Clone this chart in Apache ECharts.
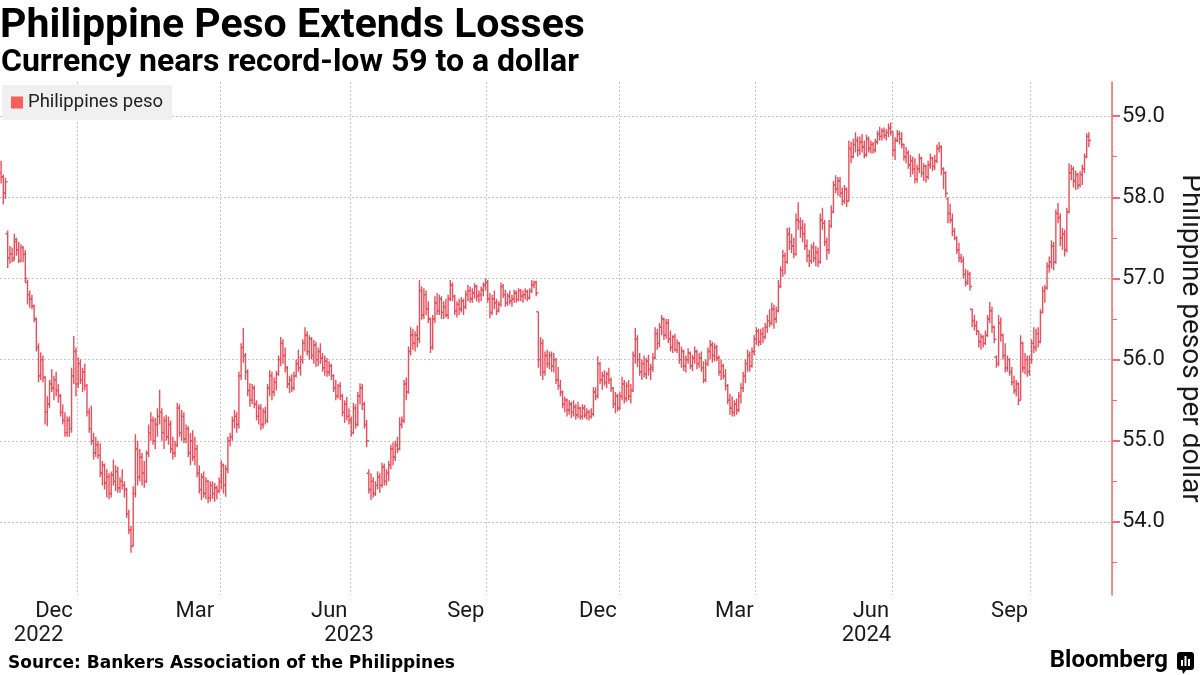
<!DOCTYPE html>
<html>
<head>
<meta charset="utf-8">
<script src="https://cdn.jsdelivr.net/npm/echarts@6/dist/echarts.min.js"></script>
<style>
html,body{margin:0;padding:0;background:#fff;}
#chart{width:1200px;height:675px;}
</style>
</head>
<body>
<div id="chart"></div>
<script>
// ---- Data: daily bars [open, high, low, close], grouped by month ----
const nov2022 = [[58.30,58.45,58.17,58.25],[58.25,58.28,57.91,58.05],[58.05,58.24,57.98,58.19],[57.55,57.59,57.13,57.25],[57.25,57.40,57.18,57.30],[57.30,57.38,57.20,57.22],[57.25,57.55,57.22,57.48],[57.45,57.50,57.28,57.35],[57.35,57.45,57.19,57.22],[57.22,57.42,57.20,57.38],[57.38,57.40,57.20,57.30],[57.30,57.35,56.95,57.00],[56.95,56.98,56.68,56.80]];
const dec2022 = [[56.80,56.85,56.64,56.75],[56.75,56.80,56.62,56.66],[56.66,56.68,56.46,56.50],[56.50,56.52,56.10,56.15],[56.15,56.20,55.72,55.80],[55.80,56.09,55.75,56.00],[56.00,56.05,55.72,55.78],[55.78,55.80,55.20,55.35],[55.35,55.55,55.18,55.45],[55.45,55.75,55.40,55.70],[55.70,55.88,55.60,55.65],[55.65,55.80,55.50,55.75],[55.75,55.85,55.55,55.62],[55.62,55.70,55.47,55.55],[55.55,55.58,55.30,55.35],[55.35,55.45,55.20,55.25],[55.25,55.35,55.05,55.10],[55.10,55.30,55.05,55.25],[55.25,55.30,55.05,55.15],[55.15,55.90,55.10,55.80],[55.80,56.29,55.70,56.10],[56.10,56.15,55.55,55.70]];
const jan2023 = [[55.70,56.03,55.65,55.95],[55.95,56.00,55.70,55.75],[55.75,55.90,55.60,55.85],[55.85,55.95,55.62,55.68],[55.68,55.70,55.30,55.35],[55.35,55.40,55.10,55.15],[55.15,55.43,54.95,55.00],[55.00,55.10,54.77,54.85],[54.85,55.05,54.80,54.95],[54.95,55.00,54.78,54.82],[54.82,54.97,54.55,54.60],[54.60,54.75,54.45,54.70],[54.70,54.72,54.40,54.48],[54.48,54.65,54.30,54.55],[54.55,54.60,54.28,54.35],[54.35,54.62,54.30,54.58],[54.58,54.77,54.45,54.50],[54.50,54.70,54.38,54.62],[54.62,54.68,54.36,54.42],[54.42,54.55,54.36,54.50],[54.50,54.65,54.40,54.45],[54.45,54.50,54.30,54.40]];
const feb2023 = [[54.40,54.42,54.05,54.10],[54.10,54.15,53.85,53.90],[53.90,53.95,53.62,53.70],[53.70,54.44,53.70,54.35],[54.35,55.08,54.30,54.90],[54.90,55.00,54.45,54.55],[54.55,54.90,54.50,54.80],[54.80,54.85,54.45,54.60],[54.60,54.75,54.42,54.50],[54.50,54.88,54.48,54.85],[54.85,55.20,54.80,55.10],[55.10,55.35,55.00,55.25],[55.25,55.30,54.95,55.00],[55.00,55.28,54.90,55.20],[55.20,55.40,55.05,55.30],[55.30,55.63,55.20,55.35],[55.35,55.40,55.00,55.10],[55.10,55.30,54.90,55.25],[55.25,55.32,55.00,55.05],[55.05,55.30,54.95,55.20]];
const mar2023 = [[55.20,55.25,54.85,54.90],[54.90,55.05,54.77,54.85],[54.85,55.00,54.80,54.95],[54.95,55.47,54.92,55.40],[55.40,55.45,55.05,55.10],[55.10,55.38,55.00,55.30],[55.30,55.35,54.97,55.02],[55.02,55.20,54.97,55.15],[55.15,55.18,54.80,54.85],[54.85,55.10,54.70,55.00],[55.00,55.13,54.75,54.80],[54.80,55.05,54.70,54.90],[54.90,54.95,54.55,54.60],[54.60,54.70,54.35,54.40],[54.40,54.60,54.27,54.55],[54.55,54.62,54.30,54.35],[54.35,54.55,54.28,54.50],[54.50,54.52,54.23,54.30],[54.30,54.50,54.25,54.45],[54.45,54.50,54.28,54.35],[54.35,54.48,54.25,54.42],[54.42,54.45,54.28,54.38],[54.38,54.55,54.35,54.50]];
const apr2023 = [[54.50,54.76,54.40,54.70],[54.70,54.72,54.35,54.45],[54.45,54.70,54.31,54.65],[54.65,55.05,54.60,55.00],[55.00,55.10,54.93,55.05],[55.05,55.30,55.00,55.25],[55.25,55.38,55.15,55.30],[55.30,55.35,55.10,55.20],[55.20,55.85,55.15,55.80],[55.80,56.20,55.75,56.15],[56.15,56.39,55.96,56.05],[56.05,56.08,55.75,55.85],[55.85,55.88,55.55,55.62],[55.62,55.71,55.42,55.50],[55.50,55.70,55.45,55.65],[55.65,55.68,55.40,55.45],[55.45,55.50,55.25,55.30],[55.30,55.45,55.20,55.40]];
const may2023 = [[55.40,55.45,55.13,55.20],[55.20,55.40,55.15,55.35],[55.35,55.42,55.20,55.25],[55.25,55.70,55.22,55.65],[55.65,55.87,55.55,55.80],[55.80,55.85,55.50,55.60],[55.60,55.78,55.55,55.72],[55.72,55.86,55.62,55.82],[55.82,56.05,55.80,56.00],[56.00,56.28,55.92,56.20],[56.20,56.25,55.95,56.05],[56.05,56.15,55.84,55.90],[55.90,55.92,55.65,55.70],[55.70,55.80,55.59,55.75],[55.75,55.82,55.60,55.65],[55.65,55.85,55.62,55.80],[55.80,56.00,55.78,55.95],[55.95,56.12,55.85,55.90],[55.90,56.05,55.80,56.00],[56.00,56.25,55.95,56.20],[56.20,56.40,56.10,56.30]];
const jun2023 = [[56.30,56.35,56.05,56.10],[56.10,56.30,56.00,56.25],[56.25,56.28,56.00,56.05],[56.05,56.24,55.95,56.18],[56.18,56.22,55.91,56.00],[56.00,56.15,55.92,56.10],[56.10,56.20,55.95,56.02],[56.02,56.08,55.85,55.90],[55.90,56.05,55.80,55.98],[55.98,56.02,55.79,55.85],[55.85,55.98,55.80,55.92],[55.92,55.95,55.75,55.80],[55.80,55.82,55.60,55.65],[55.65,55.75,55.50,55.55],[55.55,55.70,55.52,55.68],[55.68,55.72,55.50,55.55],[55.55,55.58,55.30,55.35],[55.35,55.50,55.22,55.45],[55.45,55.54,55.25,55.30],[55.30,55.40,55.20,55.25]];
const jul2023 = [[55.25,55.30,55.05,55.10],[55.10,55.47,55.08,55.40],[55.40,55.45,55.15,55.20],[55.20,55.60,55.18,55.55],[55.55,55.71,55.45,55.65],[55.65,55.70,55.38,55.45],[55.45,55.48,55.15,55.20],[55.20,55.26,54.92,55.00],[54.60,54.65,54.35,54.40],[54.40,54.60,54.27,54.50],[54.50,54.55,54.30,54.35],[54.35,54.50,54.32,54.45],[54.45,54.62,54.40,54.55],[54.55,54.60,54.36,54.45],[54.45,54.73,54.42,54.68],[54.68,54.72,54.45,54.50],[54.50,54.65,54.45,54.60],[54.60,54.75,54.50,54.70],[54.70,54.95,54.65,54.90],[54.90,54.98,54.70,54.80]];
const aug2023 = [[54.80,55.00,54.75,54.95],[54.95,55.05,54.85,54.90],[54.90,55.29,54.88,55.20],[55.20,55.30,55.15,55.25],[55.25,55.75,55.22,55.70],[55.70,55.78,55.50,55.60],[55.60,56.16,55.58,56.10],[56.10,56.40,56.05,56.30],[56.30,56.38,56.12,56.20],[56.20,56.35,56.10,56.30],[56.30,56.42,56.15,56.25],[56.25,56.98,56.20,56.85],[56.85,56.90,56.49,56.55],[56.55,56.88,56.50,56.80],[56.80,56.85,56.55,56.62],[56.62,56.72,56.45,56.50],[56.50,56.52,56.08,56.15],[56.15,56.55,56.12,56.50],[56.50,56.78,56.45,56.70],[56.70,56.82,56.55,56.60],[56.60,56.80,56.55,56.75],[56.75,56.78,56.50,56.58]];
const sep2023 = [[56.58,56.72,56.50,56.65],[56.65,56.75,56.52,56.55],[56.55,56.80,56.50,56.75],[56.75,56.98,56.72,56.92],[56.92,56.95,56.72,56.78],[56.78,56.80,56.55,56.60],[56.60,56.72,56.52,56.68],[56.68,56.75,56.55,56.62],[56.62,56.77,56.58,56.72],[56.72,56.75,56.55,56.65],[56.65,56.85,56.62,56.80],[56.80,56.92,56.72,56.85],[56.85,56.90,56.70,56.75],[56.75,56.88,56.70,56.82],[56.82,56.94,56.75,56.90],[56.90,56.92,56.72,56.78],[56.78,56.85,56.70,56.80],[56.80,56.90,56.72,56.86],[56.86,56.95,56.78,56.92],[56.92,57.00,56.85,56.95]];
const oct2023 = [[56.95,56.98,56.70,56.75],[56.75,56.82,56.51,56.58],[56.58,56.80,56.55,56.75],[56.75,56.85,56.62,56.70],[56.70,56.75,56.55,56.60],[56.60,56.72,56.58,56.68],[56.68,56.95,56.65,56.90],[56.90,56.93,56.76,56.80],[56.80,56.86,56.65,56.70],[56.70,56.82,56.66,56.78],[56.78,56.85,56.68,56.72],[56.72,56.80,56.65,56.75],[56.75,56.86,56.70,56.82],[56.82,56.85,56.70,56.74],[56.74,56.88,56.72,56.85],[56.85,56.87,56.72,56.78],[56.78,56.85,56.70,56.80],[56.80,56.88,56.74,56.84],[56.84,56.86,56.72,56.76],[56.76,56.88,56.74,56.85]];
const nov2023 = [[56.85,56.98,56.82,56.92],[56.92,56.97,56.88,56.95],[56.95,56.97,56.78,56.82],[56.59,56.59,55.90,56.00],[56.00,56.28,55.80,56.20],[56.20,56.25,55.75,55.85],[55.85,56.10,55.80,56.05],[56.05,56.12,55.90,55.95],[55.95,56.10,55.88,56.05],[56.05,56.10,55.85,55.92],[55.92,56.08,55.84,56.00],[56.00,56.02,55.70,55.75],[55.75,55.91,55.63,55.68],[55.68,55.75,55.55,55.60],[55.60,55.62,55.40,55.45],[55.45,55.54,55.35,55.50],[55.50,55.52,55.30,55.38],[55.38,55.50,55.32,55.45],[55.45,55.48,55.28,55.35],[55.35,55.50,55.30,55.42]];
const dec2023 = [[55.42,55.45,55.26,55.32],[55.32,55.48,55.28,55.40],[55.40,55.42,55.26,55.30],[55.30,55.45,55.26,55.40],[55.40,55.44,55.28,55.32],[55.32,55.40,55.26,55.35],[55.35,55.38,55.25,55.30],[55.30,55.40,55.27,55.33],[55.33,55.66,55.30,55.60],[55.60,55.66,55.50,55.55],[55.55,56.04,55.52,55.95],[55.95,55.97,55.70,55.75],[55.75,55.85,55.63,55.80],[55.80,55.87,55.68,55.72],[55.72,55.85,55.65,55.82],[55.82,55.90,55.70,55.75],[55.75,55.78,55.60,55.65],[55.65,55.66,55.40,55.45],[55.45,55.60,55.34,55.55],[55.55,55.58,55.36,55.40]];
const jan2024 = [[55.40,55.60,55.38,55.55],[55.55,55.79,55.50,55.70],[55.70,55.75,55.46,55.52],[55.52,55.72,55.48,55.68],[55.68,55.75,55.50,55.55],[55.55,55.70,55.46,55.62],[55.62,56.10,55.60,56.05],[56.05,56.39,55.95,56.25],[56.25,56.30,55.91,56.00],[56.00,56.08,55.80,55.85],[55.85,56.00,55.75,55.95],[55.95,56.05,55.78,55.82],[55.82,56.02,55.76,55.98],[55.98,56.06,55.80,55.88],[55.88,55.95,55.75,55.90],[55.90,56.08,55.85,56.02],[56.02,56.40,56.00,56.32],[56.32,56.38,56.12,56.20],[56.20,56.45,56.15,56.40],[56.40,56.55,56.30,56.50],[56.50,56.52,56.24,56.30],[56.30,56.50,56.26,56.45]];
const feb2024 = [[56.45,56.50,56.20,56.25],[56.25,56.36,56.10,56.15],[56.15,56.30,56.08,56.28],[56.28,56.32,56.10,56.12],[56.12,56.25,56.08,56.20],[56.20,56.22,55.95,56.00],[56.00,56.16,55.90,56.10],[56.10,56.12,55.86,55.92],[55.92,56.05,55.84,56.00],[56.00,56.14,55.95,56.08],[56.08,56.10,55.88,55.92],[55.92,56.06,55.86,56.02],[56.02,56.16,55.95,56.10],[56.10,56.12,55.88,55.95],[55.95,56.08,55.90,56.02],[56.02,56.10,55.85,55.90],[55.90,55.98,55.71,55.75],[55.75,56.00,55.72,55.95],[55.95,56.15,55.92,56.10],[56.10,56.24,56.00,56.18]];
const mar2024 = [[56.18,56.22,55.96,56.05],[56.05,56.20,55.98,56.15],[56.15,56.18,55.98,56.02],[56.02,56.05,55.80,55.85],[55.85,56.00,55.75,55.92],[55.92,55.95,55.76,55.80],[55.80,55.88,55.62,55.68],[55.68,55.70,55.45,55.50],[55.50,55.58,55.32,55.40],[55.40,55.55,55.30,55.35],[55.35,55.50,55.30,55.45],[55.45,55.52,55.32,55.38],[55.38,55.60,55.35,55.55],[55.55,55.71,55.46,55.65],[55.65,55.85,55.60,55.80],[55.80,56.00,55.71,55.95],[55.95,56.12,55.85,56.05],[56.05,56.10,55.85,55.92],[55.92,56.15,55.90,56.10],[56.10,56.30,56.05,56.25]];
const apr2024 = [[56.25,56.40,56.18,56.35],[56.35,56.38,56.16,56.22],[56.22,56.38,56.18,56.32],[56.32,56.40,56.20,56.28],[56.28,56.45,56.25,56.40],[56.40,56.55,56.33,56.48],[56.48,56.62,56.40,56.45],[56.45,56.70,56.42,56.62],[56.62,56.68,56.38,56.50],[56.50,56.65,56.45,56.60],[56.60,56.98,56.58,56.90],[56.90,57.15,56.88,57.10],[57.10,57.35,57.02,57.28],[57.28,57.32,57.05,57.20],[57.20,57.62,57.18,57.55],[57.55,57.63,57.35,57.45],[57.45,57.55,57.31,57.40],[57.40,57.50,57.25,57.30],[57.30,57.80,57.28,57.72],[57.72,57.94,57.60,57.70],[57.70,57.75,57.50,57.62]];
const may2024 = [[57.62,57.72,57.45,57.55],[57.55,57.68,57.35,57.40],[57.40,57.48,57.20,57.28],[57.28,57.35,57.14,57.22],[57.22,57.42,57.18,57.38],[57.38,57.45,57.20,57.25],[57.25,57.40,57.15,57.32],[57.32,57.38,57.14,57.20],[57.20,57.80,57.18,57.72],[57.72,57.87,57.60,57.68],[57.68,57.72,57.40,57.45],[57.45,57.50,57.23,57.35],[57.35,57.72,57.30,57.65],[57.65,57.90,57.62,57.82],[57.82,58.20,57.80,58.15],[58.15,58.27,58.05,58.10],[58.10,58.25,58.02,58.20],[58.20,58.25,58.00,58.05],[58.05,58.12,57.90,57.95],[57.95,58.15,57.92,58.10],[58.10,58.12,57.88,57.95],[57.95,58.70,57.95,58.60]];
const jun2024 = [[58.60,58.68,58.42,58.50],[58.50,58.72,58.48,58.65],[58.65,58.80,58.55,58.70],[58.70,58.75,58.50,58.58],[58.58,58.75,58.52,58.68],[58.68,58.78,58.55,58.62],[58.62,58.70,58.48,58.52],[58.52,58.77,58.50,58.72],[58.72,58.75,58.55,58.60],[58.60,58.70,58.54,58.65],[58.65,58.68,58.54,58.58],[58.58,58.72,58.55,58.68],[58.68,58.82,58.65,58.78],[58.78,58.87,58.70,58.75],[58.75,58.85,58.70,58.82],[58.82,58.86,58.72,58.76],[58.76,58.84,58.70,58.80],[58.80,58.91,58.74,58.85],[58.85,58.92,58.76,58.80]];
const jul2024 = [[58.80,58.82,58.50,58.58],[58.58,58.74,58.46,58.70],[58.70,58.83,58.68,58.78],[58.78,58.82,58.65,58.72],[58.72,58.80,58.60,58.65],[58.65,58.66,58.45,58.50],[58.50,58.62,58.42,58.55],[58.55,58.58,58.35,58.40],[58.40,58.52,58.25,58.45],[58.45,58.50,58.28,58.35],[58.35,58.48,58.17,58.22],[58.22,58.40,58.18,58.35],[58.35,58.54,58.30,58.48],[58.48,58.50,58.25,58.30],[58.30,58.42,58.20,58.38],[58.38,58.40,58.18,58.25],[58.25,58.45,58.22,58.40],[58.40,58.54,58.35,58.48],[58.48,58.50,58.32,58.38],[58.38,58.52,58.34,58.45],[58.45,58.65,58.42,58.60],[58.60,58.68,58.55,58.62]];
const aug2024 = [[58.62,58.64,58.27,58.35],[58.35,58.37,58.10,58.30],[58.30,58.32,58.00,58.05],[57.98,58.00,57.68,57.80],[57.80,57.92,57.68,57.72],[57.72,57.80,57.52,57.58],[57.58,57.62,57.47,57.50],[57.50,57.52,57.30,57.35],[57.35,57.44,57.20,57.25],[57.25,57.30,57.19,57.22],[57.22,57.27,57.00,57.05],[57.05,57.12,56.90,56.95],[56.95,57.10,56.92,57.05],[57.05,57.08,56.85,56.90],[56.62,56.63,56.40,56.48],[56.48,56.55,56.36,56.42],[56.42,56.48,56.30,56.35],[56.35,56.36,56.15,56.22],[56.22,56.32,56.12,56.28],[56.28,56.30,56.15,56.20],[56.20,56.36,56.18,56.30]];
const sep2024 = [[56.30,56.55,56.28,56.50],[56.50,56.71,56.45,56.60],[56.60,56.65,56.33,56.40],[56.40,56.42,56.20,56.25],[56.03,56.05,55.90,55.95],[55.95,56.55,55.92,56.45],[56.45,56.52,56.22,56.30],[56.30,56.32,56.00,56.05],[56.05,56.20,55.84,55.90],[55.90,56.05,55.85,56.00],[56.00,56.02,55.80,55.85],[55.85,55.91,55.68,55.72],[55.72,55.80,55.58,55.62],[55.62,55.75,55.55,55.70],[55.70,55.72,55.44,55.50],[55.50,56.30,55.50,56.20],[56.20,56.22,55.84,55.90],[55.90,56.08,55.82,56.00],[56.00,56.05,55.79,55.85],[55.85,56.05,55.80,56.00]];
const oct2024 = [[56.00,56.25,55.95,56.20],[56.20,56.40,56.08,56.15],[56.15,56.38,56.10,56.32],[56.32,56.40,56.15,56.22],[56.22,56.62,56.20,56.58],[56.58,56.90,56.57,56.85],[56.85,56.92,56.70,56.88],[56.88,57.20,56.86,57.15],[57.15,57.27,57.07,57.20],[57.20,57.47,57.12,57.40],[57.40,57.45,57.10,57.20],[57.20,57.85,57.18,57.80],[57.80,57.93,57.68,57.75],[57.75,57.80,57.40,57.50],[57.50,57.62,57.35,57.55],[57.55,57.60,57.27,57.35],[57.35,57.87,57.32,57.82],[57.82,58.42,57.80,58.30],[58.30,58.40,58.21,58.35],[58.35,58.38,58.12,58.20],[58.20,58.33,58.09,58.28],[58.28,58.30,58.10,58.15],[58.15,58.32,58.12,58.28]];
const nov2024 = [[58.28,58.40,58.15,58.35],[58.35,58.54,58.30,58.50],[58.50,58.79,58.48,58.75],[58.75,58.80,58.62,58.70]];

const monthNames = ['Jan','Feb','Mar','Apr','May','Jun','Jul','Aug','Sep','Oct','Nov','Dec'];
const labelledMonths = ['Dec','Mar','Jun','Sep'];
const yTickValues = [54, 55, 56, 57, 58, 59];
const yMinorTickValues = [53.5, 54.5, 55.5, 56.5, 57.5, 58.5];
const seriesName = 'Philippines peso';

// table built from the named month arrays
const months = [
  ['2022-11', nov2022], ['2022-12', dec2022],
  ['2023-01', jan2023], ['2023-02', feb2023], ['2023-03', mar2023], ['2023-04', apr2023],
  ['2023-05', may2023], ['2023-06', jun2023], ['2023-07', jul2023], ['2023-08', aug2023],
  ['2023-09', sep2023], ['2023-10', oct2023], ['2023-11', nov2023], ['2023-12', dec2023],
  ['2024-01', jan2024], ['2024-02', feb2024], ['2024-03', mar2024], ['2024-04', apr2024],
  ['2024-05', may2024], ['2024-06', jun2024], ['2024-07', jul2024], ['2024-08', aug2024],
  ['2024-09', sep2024], ['2024-10', oct2024], ['2024-11', nov2024]
];

// ---- build category axis & series data ----
const categories = [];
const bars = [];
const monthLabelAt = new Map();
const gridAt = new Set();
const yearSpan = {};
months.forEach(([key, arr]) => {
  const [yr, mo] = key.split('-').map(Number);
  const start = categories.length;
  arr.forEach(b => { bars.push([categories.length, b[0], b[1], b[2], b[3]]); categories.push(key); });
  const end = categories.length - 1;
  const nm = monthNames[mo - 1];
  if (labelledMonths.includes(nm)) monthLabelAt.set(Math.round((start + end) / 2), nm);
  if ((mo - 1) % 3 === 0 && start > 0) gridAt.add(start);
  if (!yearSpan[yr]) yearSpan[yr] = [start, end]; else yearSpan[yr][1] = end;
});
const trailingSlots = 10;
const lastYear = Math.max(...Object.keys(yearSpan).map(Number));
for (let i = 0; i < trailingSlots; i++) categories.push('');
yearSpan[lastYear][1] = categories.length - 1;
const yearLabelAt = new Map();
Object.keys(yearSpan).forEach(y => {
  const [s, e] = yearSpan[y];
  yearLabelAt.set(Math.round((s + e) / 2), String(y));
});

const BAR_COLOR = '#e6505c';
const AXIS_RED = '#f26b6b';
const GRID_GRAY = '#c6c6c6';
const FONT = 'Roboto, "Liberation Sans", sans-serif';

const chart = echarts.init(document.getElementById('chart'), null, {renderer: 'canvas'});
chart.setOption({
  animation: false,
  backgroundColor: '#ffffff',
  textStyle: {fontFamily: FONT},
  title: [
    {text: 'Philippine Peso Extends Losses', left: 0, top: 6, padding: 0,
     textStyle: {fontFamily: FONT, fontWeight: 'bold', fontSize: 41, color: '#000'}},
    {text: 'Currency nears record-low 59 to a dollar', left: 1, top: 47, padding: 0,
     textStyle: {fontFamily: FONT, fontWeight: 'bold', fontSize: 32, color: '#000'}},
    {text: 'Source: Bankers Association of the Philippines', left: 8, top: 655, padding: 0,
     textStyle: {fontFamily: '"DejaVu Sans", sans-serif', fontWeight: 'bold', fontSize: 17, color: '#000'}}
  ],
  legend: {
    left: 2, top: 85, padding: [8, 9, 8, 9], backgroundColor: '#f0f0f0',
    itemWidth: 12, itemHeight: 12, selectedMode: false,
    data: [{name: seriesName, icon: 'rect', itemStyle: {color: '#f75f5d'}}],
    textStyle: {fontFamily: FONT, fontSize: 18.5, color: '#222'}
  },
  grid: {left: 0, right: 88, top: 82, bottom: 80, containLabel: false, outerBoundsMode: 'none'},
  xAxis: [{
    type: 'category', data: categories, boundaryGap: true,
    axisLine: {show: false}, axisTick: {show: false},
    axisLabel: {
      interval: (i) => monthLabelAt.has(i),
      formatter: (v, i) => monthLabelAt.get(i) || '',
      fontFamily: FONT, fontSize: 22, color: '#1a1a1a', margin: 5, hideOverlap: false
    },
    splitLine: {show: true, interval: (i) => gridAt.has(i),
      lineStyle: {color: GRID_GRAY, width: 1, type: [2, 2]}}
  }, {
    type: 'category', data: categories, boundaryGap: true, position: 'bottom', offset: 24,
    axisLine: {show: false}, axisTick: {show: false}, splitLine: {show: false},
    axisLabel: {
      interval: (i) => yearLabelAt.has(i),
      formatter: (v, i) => yearLabelAt.get(i) || '',
      fontFamily: FONT, fontSize: 22, color: '#1a1a1a', margin: 5, hideOverlap: false
    }
  }],
  yAxis: [{
    type: 'value', position: 'right', min: 53.1, max: 59.42, scale: true,
    axisLine: {show: true, lineStyle: {color: AXIS_RED, width: 1.5}},
    axisTick: {show: true, length: 8, customValues: yTickValues, lineStyle: {color: AXIS_RED, width: 2}},
    axisLabel: {customValues: yTickValues, formatter: (v) => Number(v).toFixed(1), margin: 10,
      fontFamily: FONT, fontSize: 22, color: '#1a1a1a'},
    splitLine: {show: true, lineStyle: {color: GRID_GRAY, width: 1, type: [2, 2]}},
    name: 'Philippine pesos per dollar', nameLocation: 'middle', nameRotate: -90, nameGap: 60,
    nameTextStyle: {fontFamily: FONT, fontSize: 28, color: '#1a1a1a'}
  }, {
    type: 'value', position: 'right', min: 53.1, max: 59.42, scale: true,
    axisLine: {show: false}, axisLabel: {show: false}, splitLine: {show: false},
    axisTick: {show: true, length: 5, customValues: yMinorTickValues, lineStyle: {color: AXIS_RED, width: 1}}
  }],
  series: [{
    name: seriesName, type: 'custom', xAxisIndex: 0, yAxisIndex: 0,
    encode: {x: 0, y: [1, 2, 3, 4]},
    data: bars,
    silent: true,
    renderItem: function (params, api) {
      const idx = api.value(0);
      const pO = api.coord([idx, api.value(1)]);
      const pH = api.coord([idx, api.value(2)]);
      const pL = api.coord([idx, api.value(3)]);
      const pC = api.coord([idx, api.value(4)]);
      const x = pO[0];
      const t = 2.2;
      const d = 'M' + x.toFixed(2) + ' ' + pH[1].toFixed(2) + 'L' + x.toFixed(2) + ' ' + pL[1].toFixed(2) +
                'M' + (x - t).toFixed(2) + ' ' + pO[1].toFixed(2) + 'L' + x.toFixed(2) + ' ' + pO[1].toFixed(2) +
                'M' + x.toFixed(2) + ' ' + pC[1].toFixed(2) + 'L' + (x + t).toFixed(2) + ' ' + pC[1].toFixed(2);
      return {
        type: 'path',
        shape: {pathData: d},
        style: {stroke: BAR_COLOR, fill: null, lineWidth: 1.4, opacity: 1}
      };
    }
  }],
  graphic: [
    {type: 'text', right: 32, top: 649,
     style: {text: 'Bloomberg', font: 'bold 24px Roboto, sans-serif', fill: '#000'}},
    {type: 'group', left: 1177, top: 652, children: [
      {type: 'rect', shape: {x: 0, y: 0, width: 17, height: 18, r: 3}, style: {fill: '#000'}},
      {type: 'polygon', shape: {points: [[5, 17], [10, 17], [6, 22]]}, style: {fill: '#000'}},
      {type: 'rect', shape: {x: 4, y: 8, width: 2, height: 6}, style: {fill: '#fff'}},
      {type: 'rect', shape: {x: 7.5, y: 4, width: 2, height: 10}, style: {fill: '#fff'}},
      {type: 'rect', shape: {x: 11, y: 7, width: 2, height: 7}, style: {fill: '#fff'}}
    ]}
  ]
});
</script>
</body>
</html>
